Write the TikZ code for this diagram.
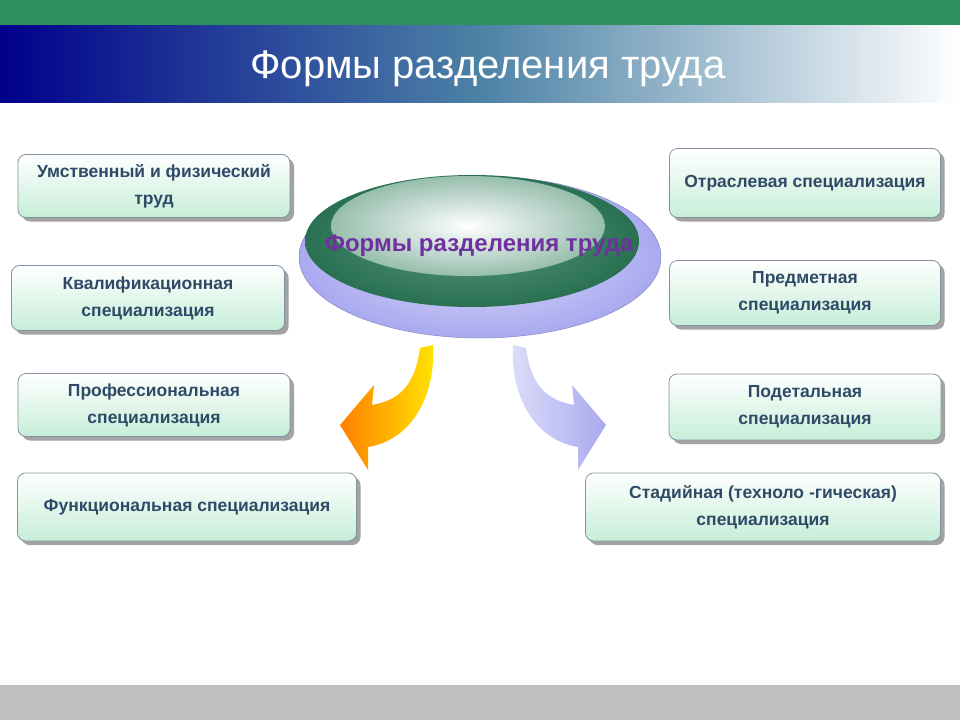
\documentclass[tikz,border=0pt]{standalone}
\usepackage{fontspec}
\setmainfont{Liberation Sans}
\usetikzlibrary{shadows}
\definecolor{topgreen}{HTML}{2F8F5F}
\definecolor{boxtext}{HTML}{2E4A66}
\definecolor{boxfill}{HTML}{C6EED8}
\definecolor{lav}{HTML}{A9A9F0}
\definecolor{dgreen}{HTML}{2E7D5B}
\definecolor{ttl}{HTML}{7030A0}
\tikzset{
  box/.style={draw=boxtext!60,line width=0.8pt,rounded corners=8pt,top color=white,bottom color=boxfill,
    drop shadow={shadow xshift=4pt,shadow yshift=-4pt,fill=black!45,opacity=0.8},
    font=\bfseries\fontsize{17.5}{27}\selectfont,text=boxtext,align=center,inner sep=0pt}
}
\begin{document}
\begin{tikzpicture}[x=1pt,y=-1pt]
\useasboundingbox (0,0) rectangle (960,720);
\fill[white] (0,0) rectangle (960,720);
\fill[topgreen] (0,0) rectangle (960,25);
\shade[left color=blue!55!black,right color=white,middle color=blue!40!cyan!50!black!70!white] (0,25) rectangle (960,102);
\node[text=white,font=\fontsize{40}{42}\selectfont] (title) at (488,69) {Формы разделения труда};
\fill[black!25] (0,685) rectangle (960,720);
% boxes
\node[box,minimum width=272pt,minimum height=63pt] (b1) at (154,186) {Умственный и физический\\труд};
\node[box,minimum width=273pt,minimum height=65pt] (b2) at (148,298) {Квалификационная\\специализация};
\node[box,minimum width=272pt,minimum height=63pt] (b3) at (154,405) {Профессиональная\\специализация};
\node[box,minimum width=339pt,minimum height=68pt] (b4) at (187,507) {Функциональная специализация};
\node[box,minimum width=271pt,minimum height=69pt] (b5) at (805,183) {Отраслевая специализация};
\node[box,minimum width=271pt,minimum height=65pt] (b6) at (805,293) {Предметная\\специализация};
\node[box,minimum width=272pt,minimum height=66pt] (b7) at (805,407) {Подетальная\\специализация};
\node[box,minimum width=355pt,minimum height=68pt] (b8) at (763,507) {Стадийная (техноло -гическая)\\специализация};
% center
\shade[outer color=lav,inner color=lav!40,draw=lav!80!black,line width=0.5pt] (480,257) ellipse (181 and 81);
\shade[inner color=dgreen!80!white,outer color=dgreen!90!black] (472,241) ellipse (167 and 66);
\shade[inner color=white,outer color=dgreen!50!white] (468,226) ellipse (137 and 50);
\node[text=ttl,font=\bfseries\fontsize{24}{26}\selectfont] (c) at (479,246) {Формы разделения труда};
% arrows
\shade[left color=orange,right color=yellow!80!orange]
 (420,348) .. controls (415,385) and (400,400) .. (372,405) -- (374,385) -- (340,425) -- (368,470)
 -- (368,447) .. controls (412,440) and (436,395) .. (433,345) -- cycle;
\shade[left color=lav!40,right color=lav]
 (526,348) .. controls (531,385) and (546,400) .. (574,405) -- (572,385) -- (606,425) -- (578,470)
 -- (578,447) .. controls (534,440) and (510,395) .. (513,345) -- cycle;
\end{tikzpicture}
\end{document}
